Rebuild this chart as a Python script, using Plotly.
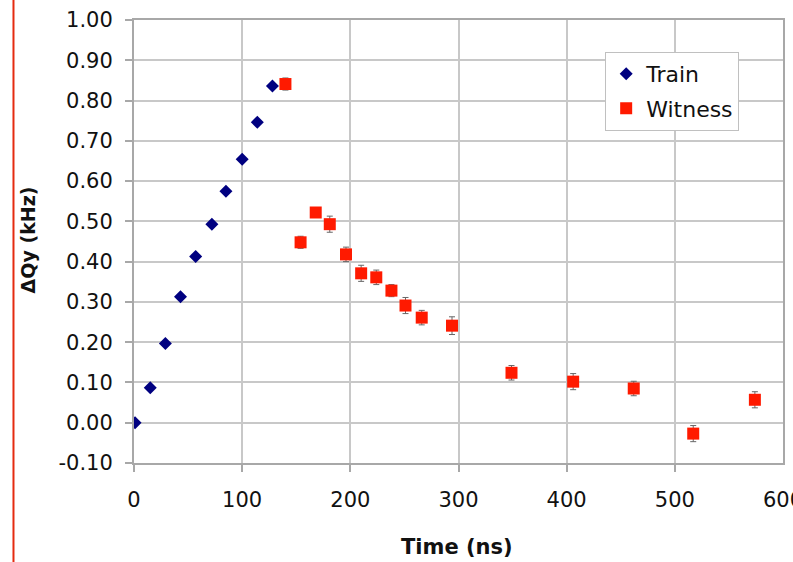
import plotly.graph_objects as go

train_t = [1, 15, 29, 43, 57, 72, 85, 100, 114, 128]
train_dq = [0.000, 0.087, 0.197, 0.313, 0.413, 0.493, 0.575, 0.654, 0.746, 0.836]

witness_t = [140, 154, 168, 181, 196, 210, 224, 238, 251, 266, 294, 349, 406, 462, 517, 574]
witness_dq = [0.841, 0.448, 0.522, 0.493, 0.418, 0.371, 0.361, 0.328, 0.291, 0.261,
              0.241, 0.124, 0.102, 0.085, -0.027, 0.057]
witness_err = [0.015, 0.015, 0.012, 0.02, 0.018, 0.02, 0.018, 0.015, 0.02, 0.018,
               0.022, 0.018, 0.02, 0.018, 0.02, 0.02]

x_ticks = [0, 100, 200, 300, 400, 500, 600]
y_ticks = [-0.1, 0.0, 0.1, 0.2, 0.3, 0.4, 0.5, 0.6, 0.7, 0.8, 0.9, 1.0]

FONT = "DejaVu Sans"
TXT = "#111111"

fig = go.Figure()
fig.add_trace(go.Scatter(
    x=train_t, y=train_dq, mode="markers", name="Train", legendgroup="a",
    marker=dict(symbol="diamond", size=10, color="#000080"),
))
fig.add_trace(go.Scatter(
    x=witness_t, y=witness_dq, mode="markers", name="Witness", legendgroup="b",
    marker=dict(symbol="square", size=12, color="#ff1a00"),
    error_y=dict(type="data", array=witness_err, visible=True,
                 color="#666666", thickness=1, width=3),
))

axis_common = dict(
    showgrid=True, gridcolor="#c8c8c8", gridwidth=2,
    showline=True, linecolor="#a8a8a8", linewidth=2, mirror=True,
    zeroline=False, ticks="outside", ticklen=7, tickcolor="#a8a8a8", tickwidth=2,
    tickfont=dict(family=FONT, size=21, color=TXT),
)

fig.update_xaxes(range=[0, 600], tickvals=x_ticks[:-1],
                 ticktext=[str(v) for v in x_ticks[:-1]],
                 ticklabelstandoff=10, **axis_common)
fig.update_yaxes(range=[-0.1, 1.0], tickvals=y_ticks,
                 ticktext=[f"{v:.2f}" for v in y_ticks],
                 ticklabelstandoff=8, **axis_common)

fig.update_layout(
    width=793, height=562,
    margin=dict(l=134, r=10, t=20, b=99, autoexpand=False),
    paper_bgcolor="white", plot_bgcolor="white",
    font=dict(family=FONT, color=TXT),
    showlegend=True,
    legend=dict(x=0.726, y=0.928, xanchor="left", yanchor="top",
                bgcolor="white", bordercolor="#c0c0c0", borderwidth=1,
                font=dict(family=FONT, size=22, color=TXT),
                traceorder="grouped", tracegroupgap=3, itemwidth=30),
    annotations=[
        dict(text=str(x_ticks[-1]), xref="x", yref="paper", x=x_ticks[-1], y=-0.083,
             showarrow=False, font=dict(family=FONT, size=21, color=TXT),
             xanchor="center", yanchor="middle"),
        dict(text="<b>Time (ns)</b>", xref="paper", yref="paper", x=0.498, y=-0.19,
             showarrow=False, font=dict(family=FONT, size=21, color=TXT),
             xanchor="center", yanchor="middle"),
        dict(text="<b>ΔQy (kHz)</b>", xref="paper", yref="paper", x=-0.163, y=0.503,
             showarrow=False, textangle=-90, font=dict(family=FONT, size=19, color=TXT),
             xanchor="center", yanchor="middle"),
    ],
    shapes=[
        dict(type="line", xref="paper", yref="paper", x0=-0.1857, x1=-0.1857,
             y0=-0.25, y1=1.1, line=dict(color="#e52b10", width=2)),
    ],
)

fig.write_html("out.html")
